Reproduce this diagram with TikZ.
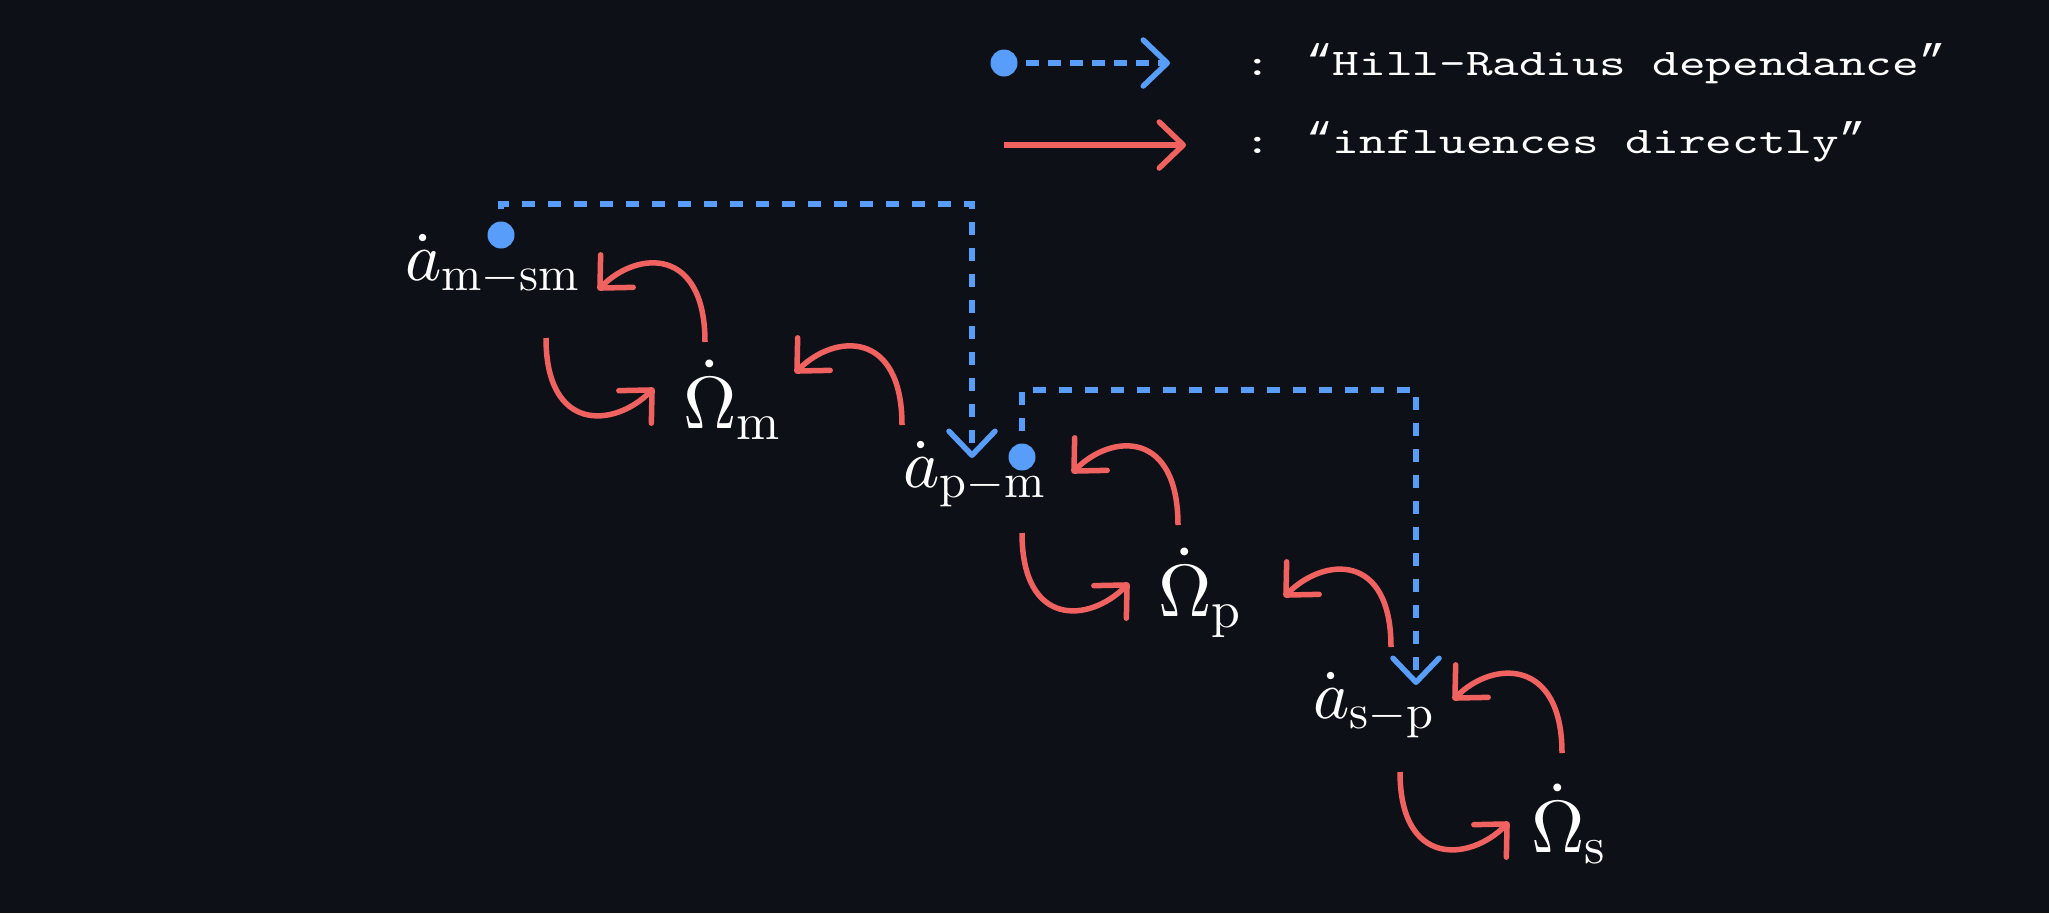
\documentclass[tikz,border=0pt]{standalone}
\usepackage[no-math]{fontspec}
\newfontfamily\legendfont{lmmono10-regular}[Extension=.otf,FakeStretch=1.35]
\newfontfamily\quotefont{Liberation Mono}
\newcommand{\legopenq}{{\quotefont\fontsize{44}{45}\selectfont “}}
\newcommand{\legcloseq}{{\quotefont\fontsize{44}{45}\selectfont ”}}
\DeclareFontShape{OT1}{cmr}{m}{n}{<->cmr10}{}
\DeclareFontShape{OML}{cmm}{m}{it}{<->cmmi10}{}
\DeclareFontShape{OMS}{cmsy}{m}{n}{<->cmsy10}{}
\usetikzlibrary{arrows.meta,calc}
\definecolor{bg}{RGB}{13,17,23}
\definecolor{hillblue}{RGB}{88,157,250}
\definecolor{infred}{RGB}{240,98,95}
\begin{document}
\begin{tikzpicture}[x=1pt,y=-1pt,
  avar/.style={text=white,inner sep=0pt,anchor=base west,font=\fontsize{69}{80}\selectfont},
  ovar/.style={text=white,inner sep=0pt,anchor=base west,font=\fontsize{74}{80}\selectfont},
  legtext/.style={text=white,inner sep=0pt,anchor=base west,font=\legendfont\fontsize{37.6}{45}\selectfont},
  infl/.style={draw=infred,line width=5.5pt,-{Straight Barb[length=24pt,width=46pt,round]}},
  hill/.style={draw=hillblue,line width=5.5pt,dash pattern=on 13pt off 13pt,-{Straight Barb[length=24pt,width=46pt,round]}},
  hilllegend/.style={hill,dash pattern=on 12.5pt off 9.5pt},
  hdot/.style={circle,fill=hillblue,inner sep=0pt,minimum size=27pt},
]
\fill[bg] (0,0) rectangle (2049,913);
\useasboundingbox (0,0) rectangle (2049,913);

% variables
\node[avar] (amsm) at (405,280) {$\dot{a}_{\mathrm{m-sm}}$};
\node[ovar] (Om)   at (683,428) {$\dot{\Omega}_{\mathrm{m}}$};
\node[avar] (apm)  at (903,487) {$\dot{a}_{\mathrm{p-m}}$};
\node[ovar] (Op)   at (1158,616) {$\dot{\Omega}_{\mathrm{p}}$};
\node[avar] (asp)  at (1313,718) {$\dot{a}_{\mathrm{s-p}}$};
\node[ovar] (Os)   at (1531,852) {$\dot{\Omega}_{\mathrm{s}}$};

% hill-radius dots
\node[hdot] (d1) at ($(amsm.base west)+(96,-45)$) {};
\node[hdot] (d2) at ($(apm.base west)+(119,-30)$) {};

% hill-radius dependance
\draw[hill] (d1.center) -- ++(0,-31) -| ($(apm.base west)+(69,-29)$);
\draw[hill] (d2.center) -- ++(0,-67) -| ($(asp.base west)+(103,-33)$);

% influences directly
\draw[infl] ($(Om.base west)+(22,-86)$) .. controls +(0,-95) and +(40,-40) .. ($(amsm.base west)+(193,10)$);
\draw[infl] ($(amsm.base west)+(141,58)$) .. controls +(0,95) and +(-40,40) .. ($(Om.base west)+(-29,-40)$);
\draw[infl] ($(apm.base west)+(-1,-62)$) .. controls +(0,-95) and +(40,-40) .. ($(Om.base west)+(112,-55)$);
\draw[infl] ($(Op.base west)+(20,-91)$) .. controls +(0,-95) and +(40,-40) .. ($(apm.base west)+(169,-14)$);
\draw[infl] ($(apm.base west)+(119,46)$) .. controls +(0,95) and +(-40,40) .. ($(Op.base west)+(-29,-33)$);
\draw[infl] ($(asp.base west)+(78,-71)$) .. controls +(0,-95) and +(40,-40) .. ($(Op.base west)+(126,-19)$);
\draw[infl] ($(Os.base west)+(31,-99)$) .. controls +(0,-95) and +(40,-40) .. ($(asp.base west)+(140,-18)$);
\draw[infl] ($(asp.base west)+(87,54)$) .. controls +(0,95) and +(-40,40) .. ($(Os.base west)+(-22,-30)$);

% legend
\node[hdot] (ld) at (1004,63) {};
\coordinate (lt) at (1170,63);
\draw[hilllegend] (ld.center) -- (lt);
\coordinate (lr1) at (1004,145);
\coordinate (lr2) at (1186,145);
\draw[infl] (lr1) -- (lr2);
\node[legtext] (l1) at (1244,75) {: \legopenq Hill-Radius dependance\legcloseq};
\node[legtext] (l2) at (1244,153) {: \legopenq influences directly\legcloseq};
\end{tikzpicture}
\end{document}
